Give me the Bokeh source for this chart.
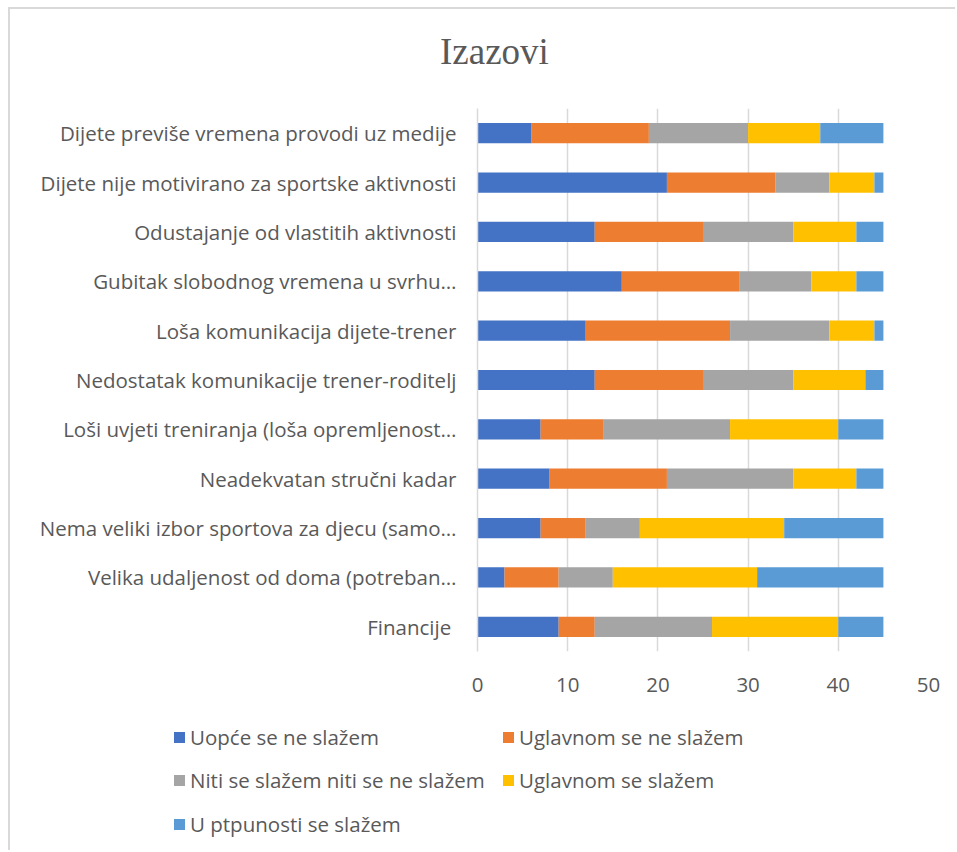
from bokeh.plotting import figure
from bokeh.layouts import column
from bokeh.models import FactorRange, Range1d, FixedTicker, ColumnDataSource, Div
from bokeh.embed import file_html
from bokeh.resources import INLINE

title_text = "Izazovi"
categories = [
    "Dijete previše vremena provodi uz medije",
    "Dijete nije motivirano za sportske aktivnosti",
    "Odustajanje od vlastitih aktivnosti",
    "Gubitak slobodnog vremena u svrhu…",
    "Loša komunikacija dijete-trener",
    "Nedostatak komunikacije trener-roditelj",
    "Loši uvjeti treniranja (loša opremljenost…",
    "Neadekvatan stručni kadar",
    "Nema veliki izbor sportova za djecu (samo…",
    "Velika udaljenost od doma (potreban…",
    "Financije ",
]
series_names = [
    "Uopće se ne slažem",
    "Uglavnom se ne slažem",
    "Niti se slažem niti se ne slažem",
    "Uglavnom se slažem",
    "U ptpunosti se slažem",
]
uopce_se_ne_slazem = [6, 21, 13, 16, 12, 13, 7, 8, 7, 3, 9]
uglavnom_se_ne_slazem = [13, 12, 12, 13, 16, 12, 7, 13, 5, 6, 4]
niti_niti = [11, 6, 10, 8, 11, 10, 14, 14, 6, 6, 13]
uglavnom_se_slazem = [8, 5, 7, 5, 5, 8, 12, 7, 16, 16, 14]
u_potpunosti = [7, 1, 3, 3, 1, 2, 5, 3, 11, 14, 5]
x_ticks = [0, 10, 20, 30, 40, 50]
colors = ["#4472C4", "#ED7D31", "#A5A5A5", "#FFC000", "#5B9BD5"]

keys = ["s1", "s2", "s3", "s4", "s5"]
source = ColumnDataSource(data=dict(
    cat=categories,
    s1=uopce_se_ne_slazem,
    s2=uglavnom_se_ne_slazem,
    s3=niti_niti,
    s4=uglavnom_se_slazem,
    s5=u_potpunosti,
))

FONT = "Open Sans"
FSIZE = "20.5px"
TXT = "#595959"
GRID = "#d9d9d9"
W = 945
H0 = 99
H1 = 601
H2 = 141

# title block
title_div = Div(
    text=(f'<div style="position:relative;width:{W}px;height:{H0}px;">'
          f'<div style="position:absolute;left:430px;top:24px;white-space:nowrap;'
          f'font-family:\'Liberation Serif\';font-size:37px;line-height:37px;'
          f'color:{TXT};">{title_text}</div></div>'),
    width=W, height=H0, styles={"margin": "0", "padding": "0"})

p = figure(width=W, height=H1, output_backend="svg", toolbar_location=None,
           y_range=FactorRange(factors=list(reversed(categories)), range_padding=0),
           x_range=Range1d(0, 50),
           min_border_left=467, min_border_right=27, min_border_top=0,
           min_border_bottom=H1 - 543)
p.outline_line_color = None

rs = p.hbar_stack(keys, y="cat", height=0.41, color=colors, source=source,
                  line_color=None)

p.xaxis.ticker = FixedTicker(ticks=x_ticks)
p.xaxis.axis_line_color = None
p.xaxis.major_tick_line_color = None
p.xaxis.minor_tick_line_color = None
p.xaxis.major_label_text_font = FONT
p.xaxis.major_label_text_font_size = FSIZE
p.xaxis.major_label_text_color = TXT
p.xaxis.major_label_standoff = 20

p.yaxis.axis_line_color = GRID
p.yaxis.axis_line_width = 1.5
p.yaxis.major_tick_line_color = None
p.yaxis.minor_tick_line_color = None
p.yaxis.major_tick_out = 0
p.yaxis.major_tick_in = 0
p.yaxis.major_label_text_font = FONT
p.yaxis.major_label_text_font_size = FSIZE
p.yaxis.major_label_text_color = TXT
p.yaxis.major_label_standoff = 21

p.xgrid.grid_line_color = GRID
p.xgrid.grid_line_width = 1.5
p.ygrid.grid_line_color = None

# legend (two columns, three rows) as HTML below the plot
legend_cols = [[0, 2, 4], [1, 3]]
col_x = [164, 493]
row_y = [28, 71, 115]
parts = []
for ci, idxs in enumerate(legend_cols):
    for ri, i in enumerate(idxs):
        x = col_x[ci]
        y = row_y[ri]
        parts.append(
            f'<div style="position:absolute;left:{x}px;top:{y - 5.5}px;'
            f'width:11px;height:11px;background:{colors[i]};"></div>'
            f'<div style="position:absolute;left:{x + 16}px;top:{y - 15}px;'
            f'height:30px;line-height:30px;white-space:nowrap;'
            f'font-family:\'{FONT}\';font-size:{FSIZE};color:{TXT};">'
            f'{series_names[i]}</div>'
        )
legend_html = ('<div style="position:relative;width:%dpx;height:%dpx;">' % (W, H2)
               + "".join(parts) + "</div>")
legend_div = Div(text=legend_html, width=W, height=H2,
                 styles={"margin": "0", "padding": "0"})

layout = column(title_div, p, legend_div, spacing=0)
layout.styles = {"margin-left": "8px", "margin-top": "7px",
                 "border-left": "2px solid #d9d9d9",
                 "border-top": "2px solid #d9d9d9"}

open("out.html", "w").write(file_html(layout, INLINE))
